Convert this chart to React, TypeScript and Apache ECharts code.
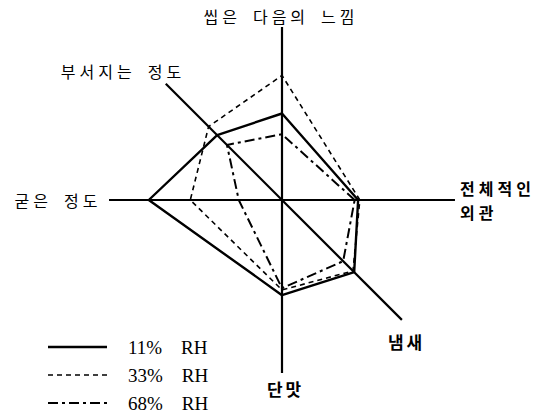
import React, { useEffect, useRef } from "react";
import * as echarts from "echarts";

// Axis directions (degrees, counter-clockwise from the right) and names
const axisAngles = [0, 90, 135, 180, 270, 315];
const axisNames = ["전체적인", "씹은 다음의 느낌", "부서지는 정도", "굳은 정도", "단맛", "냄새"];
const axisNameSecondLine = "외관";
const axisLengths = [10, 10, 9.5, 10.2, 10.1, 9.8];

// Series values, one per axis in the order above
const seriesNames = ["11%\u2003RH", "33%\u2003RH", "68%\u2003RH"];
const rh11 = [4.4, 5.0, 5.3, 7.7, 5.5, 5.9];
const rh33 = [4.5, 7.2, 6.0, 5.3, 5.2, 5.8];
const rh68 = [4.2, 3.8, 4.5, 2.5, 5.1, 5.0];

const CX = 282;
const CY = 200;
const R = 173;

function spaced(s: string, gap = "\u2005") {
  return s
    .split(" ")
    .map((w) => Array.from(w).join(gap))
    .join("\u2003");
}

function toPolar(vals: number[]) {
  const pts = vals.map((v, i) => [v, axisAngles[i]]);
  pts.push([vals[0], 360]);
  return pts;
}

export default function App() {
  const ref = useRef<HTMLDivElement>(null);
  useEffect(() => {
    if (!ref.current) return;
    const chart = echarts.init(ref.current, undefined, { renderer: "svg" });
    const axisSeries = axisAngles.map((a, i) => ({
      type: "line",
      coordinateSystem: "polar",
      name: "axis" + i,
      data: [
        [0, a],
        [axisLengths[i], a],
      ],
      symbol: "none",
      silent: true,
      lineStyle: { color: "#000", width: 2.2 },
      z: 1,
    }));
    const styles = [
      { width: 2.4, type: "solid" as any },
      { width: 1.6, type: [5, 4] as any },
      { width: 2, type: [10, 4, 3, 4] as any },
    ];
    const dataSeries = [rh11, rh33, rh68].map((vals, i) => ({
      type: "line",
      coordinateSystem: "polar",
      name: seriesNames[i],
      data: toPolar(vals),
      symbol: "none",
      lineStyle: { color: "#000", width: styles[i].width, type: styles[i].type },
      itemStyle: { color: "#000" },
      z: 2,
    }));

    const labelFont = "'Noto Sans CJK KR', sans-serif";
    const textEl = (s: string, x: number, y: number, align: string, bold: boolean, size = 16) => ({
      type: "text",
      x,
      y,
      style: {
        text: s,
        fill: "#000",
        font: `${bold ? "bold " : ""}${size}px ${labelFont}`,
        textAlign: align,
        textVerticalAlign: "middle",
      },
    });

    const legendEls: any[] = [];
    seriesNames.forEach((n, i) => {
      const y = 347 + i * 28;
      legendEls.push({
        type: "line",
        shape: { x1: 48, y1: y, x2: 107, y2: y },
        style: {
          stroke: "#000",
          lineWidth: styles[i].width,
          lineDash: styles[i].type === "solid" ? null : styles[i].type,
        },
      });
      legendEls.push({
        type: "text",
        x: 128,
        y,
        style: {
          text: n,
          fill: "#000",
          font: "19px 'Liberation Serif', serif",
          textAlign: "left",
          textVerticalAlign: "middle",
        },
      });
    });

    chart.setOption({
      animation: false,
      backgroundColor: "#fff",
      polar: { center: [CX, CY], radius: R },
      angleAxis: {
        type: "value",
        min: 0,
        max: 360,
        startAngle: 0,
        clockwise: false,
        show: false,
      },
      radiusAxis: { type: "value", min: 0, max: 10, show: false },
      graphic: [
        textEl(spaced(axisNames[1]), 279, 16, "center", false),
        textEl(spaced(axisNames[2]), 121, 71, "center", false),
        textEl(spaced(axisNames[3]), 56, 200, "center", false),
        textEl(spaced(axisNames[0], "\u2005"), 460, 188, "left", true, 16),
        textEl(spaced(axisNameSecondLine, "\u2005"), 460, 212, "left", true, 16),
        textEl(spaced(axisNames[4], "\u2006"), 284, 388, "center", true, 17),
        textEl(spaced(axisNames[5], "\u2006"), 405, 341, "center", true, 17),
        ...legendEls,
      ],
      series: [...axisSeries, ...dataSeries],
    });
    return () => chart.dispose();
  }, []);
  return (
    <div
      ref={ref}
      style={{ position: "fixed", left: 0, top: 0, width: 543, height: 417 }}
    />
  );
}
